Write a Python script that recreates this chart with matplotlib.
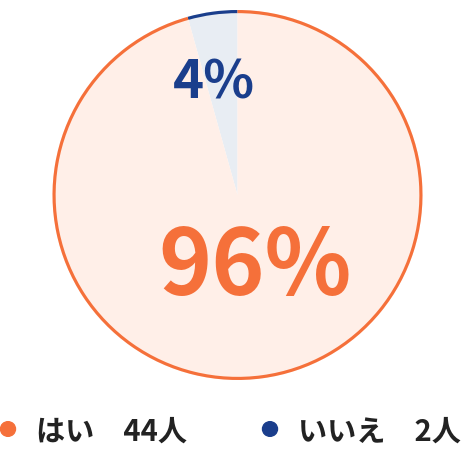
import matplotlib
matplotlib.use("Agg")
import matplotlib.pyplot as plt

plt.rcParams['font.family'] = ['Noto Sans CJK JP', 'DejaVu Sans']

labels = ['いいえ', 'はい']
counts = [2, 44]
pct_labels = ['4%', '96%']
fill_colors = ['#E8EDF3', '#FFEFE8']
edge_colors = ['#1A3E8C', '#F5703A']
legend_order = [1, 0]

W, H = 464, 453
fig = plt.figure(figsize=(W / 100, H / 100), dpi=100)
cx, cy, r = 237.5, 195, 185
ax = fig.add_axes([(cx - r) / W, (H - cy - r) / H, 2 * r / W, 2 * r / H])
ax.set_xlim(-1, 1)
ax.set_ylim(-1, 1)
ax.set_aspect('equal')
ax.axis('off')

# filled slices, no edges
ax.pie(counts, colors=fill_colors, startangle=90, counterclock=True,
       radius=1, wedgeprops=dict(linewidth=0))
# thin ring as the outer border
ax.pie(counts, colors=edge_colors, startangle=90, counterclock=True,
       radius=1, wedgeprops=dict(width=0.017, linewidth=0))
ax.set_xlim(-1, 1)
ax.set_ylim(-1, 1)

ax.text(-0.127, 0.605, pct_labels[0], color=edge_colors[0], fontsize=38,
        fontweight='bold', ha='center', va='center')
ax.text(0.097, -0.395, pct_labels[1], color=edge_colors[1], fontsize=65,
        fontweight='bold', ha='center', va='center')

# legend
leg_x = [8, 270]
for k, i in enumerate(legend_order):
    fig.patches.append(plt.Circle((leg_x[k] / W, (H - 429) / H), 7.5 / W,
                                  transform=fig.transFigure, color=edge_colors[i],
                                  figure=fig))
    fig.text((leg_x[k] + 28) / W, (H - 432) / H, f'{labels[i]}　{counts[i]}人',
             fontsize=21, fontweight='bold', color='#222222', va='center', ha='left')

fig.savefig('out.png', dpi=100)
